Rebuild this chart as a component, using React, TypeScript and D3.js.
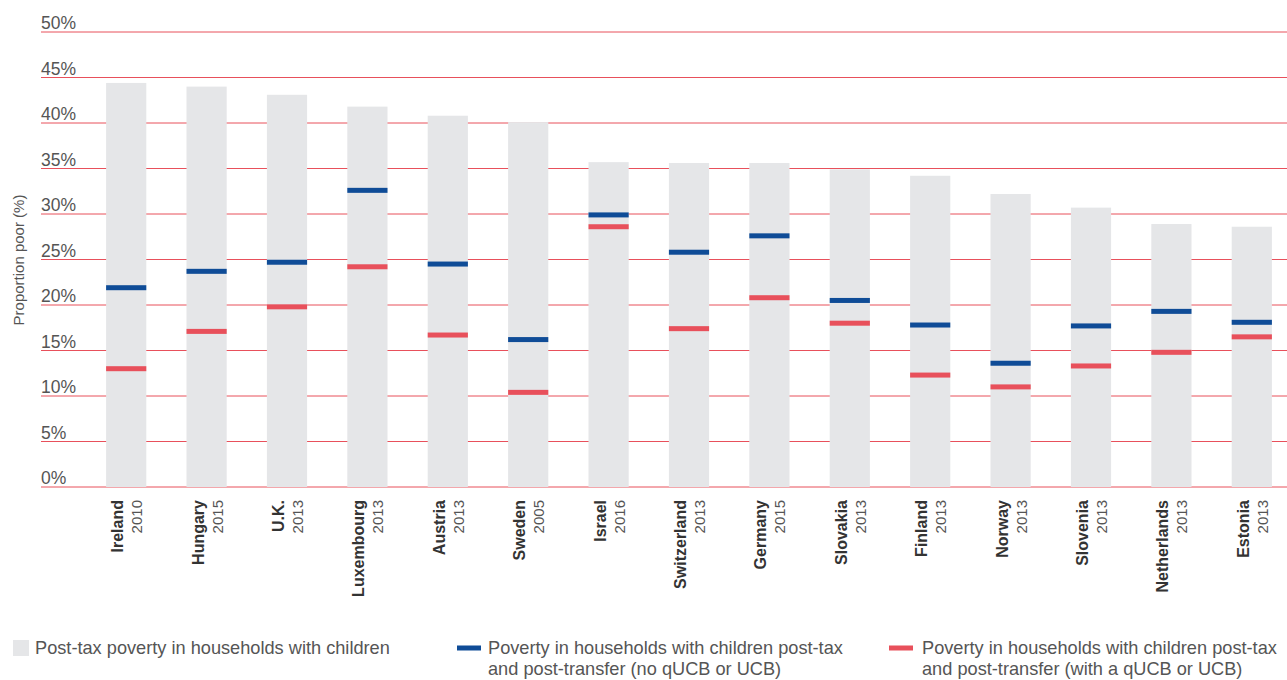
import React from "react";
import * as d3 from "d3";

const countries = ["Ireland", "Hungary", "U.K.", "Luxembourg", "Austria", "Sweden", "Israel", "Switzerland", "Germany", "Slovakia", "Finland", "Norway", "Slovenia", "Netherlands", "Estonia"];
const years = ["2010", "2015", "2013", "2013", "2013", "2005", "2016", "2013", "2015", "2013", "2013", "2013", "2013", "2013", "2013"];
const postTax = [44.4, 44.0, 43.1, 41.8, 40.8, 40.1, 35.7, 35.6, 35.6, 34.9, 34.2, 32.2, 30.7, 28.9, 28.6];
const noUCB = [21.9, 23.7, 24.7, 32.6, 24.5, 16.2, 29.9, 25.8, 27.6, 20.5, 17.8, 13.6, 17.7, 19.3, 18.1];
const withUCB = [13.0, 17.1, 19.8, 24.2, 16.7, 10.4, 28.6, 17.4, 20.8, 18.0, 12.3, 11.0, 13.3, 14.8, 16.5];
const yTicks = [0, 5, 10, 15, 20, 25, 30, 35, 40, 45, 50];
const legendLabels = [
  ["Post-tax poverty in households with children"],
  ["Poverty in households with children post-tax", "and post-transfer (no qUCB or UCB)"],
  ["Poverty in households with children post-tax", "and post-transfer (with a qUCB or UCB)"],
];

const W = 1287, H = 680;
const BAR = "#e5e6e8", BLUE = "#0f4c97", RED = "#e8505b", TXT = "#555555";
const FONT = "'Liberation Sans', Arial, sans-serif";

export default function App() {
  const y = d3.scaleLinear().domain([0, 50]).range([487, 32]);
  const x = d3.scaleBand<string>().domain(countries).range([86, 1292]).paddingInner(0.5).paddingOuter(0.25);
  const bw = x.bandwidth();
  const LF = 18.2;
  return (
    <svg width={W} height={H} style={{ position: "absolute", left: 0, top: 0, display: "block" }} fontFamily={FONT}>
      {yTicks.map((t) => (
        <g key={t}>
          <line x1={41} x2={W} y1={y(t)} y2={y(t)} stroke={RED} strokeWidth={1} />
          <text x={41} y={y(t) - 3} fontSize={17.5} fill={TXT}>{t}%</text>
        </g>
      ))}
      <text transform={`translate(24,260) rotate(-90)`} textAnchor="middle" fontSize={15} fill={TXT}>Proportion poor (%)</text>
      {countries.map((c, i) => {
        const x0 = x(c)!;
        const cx = x0 + bw / 2;
        return (
          <g key={c}>
            <rect x={x0} y={y(postTax[i])} width={bw} height={y(0) - y(postTax[i])} fill={BAR} />
            <rect x={x0} y={y(noUCB[i]) - 2.5} width={bw} height={5} fill={BLUE} />
            <rect x={x0} y={y(withUCB[i]) - 2.5} width={bw} height={5} fill={RED} />
            <text transform={`translate(${cx - 3},500) rotate(-90)`} textAnchor="end" fontSize={16} fontWeight="bold" fill="#333">{c}</text>
            <text transform={`translate(${cx + 16},500) rotate(-90)`} textAnchor="end" fontSize={15} fill={TXT}>{years[i]}</text>
          </g>
        );
      })}
      <rect x={13} y={640} width={16} height={16} fill={BAR} />
      <text x={35} y={654} fontSize={LF} fill={TXT}>{legendLabels[0][0]}</text>
      <rect x={457} y={645.5} width={24} height={5} fill={BLUE} />
      {legendLabels[1].map((l, j) => (
        <text key={j} x={488} y={654 + j * 21} fontSize={LF} fill={TXT}>{l}</text>
      ))}
      <rect x={889} y={645.5} width={24} height={5} fill={RED} />
      {legendLabels[2].map((l, j) => (
        <text key={j} x={922} y={654 + j * 21} fontSize={LF} fill={TXT}>{l}</text>
      ))}
    </svg>
  );
}
